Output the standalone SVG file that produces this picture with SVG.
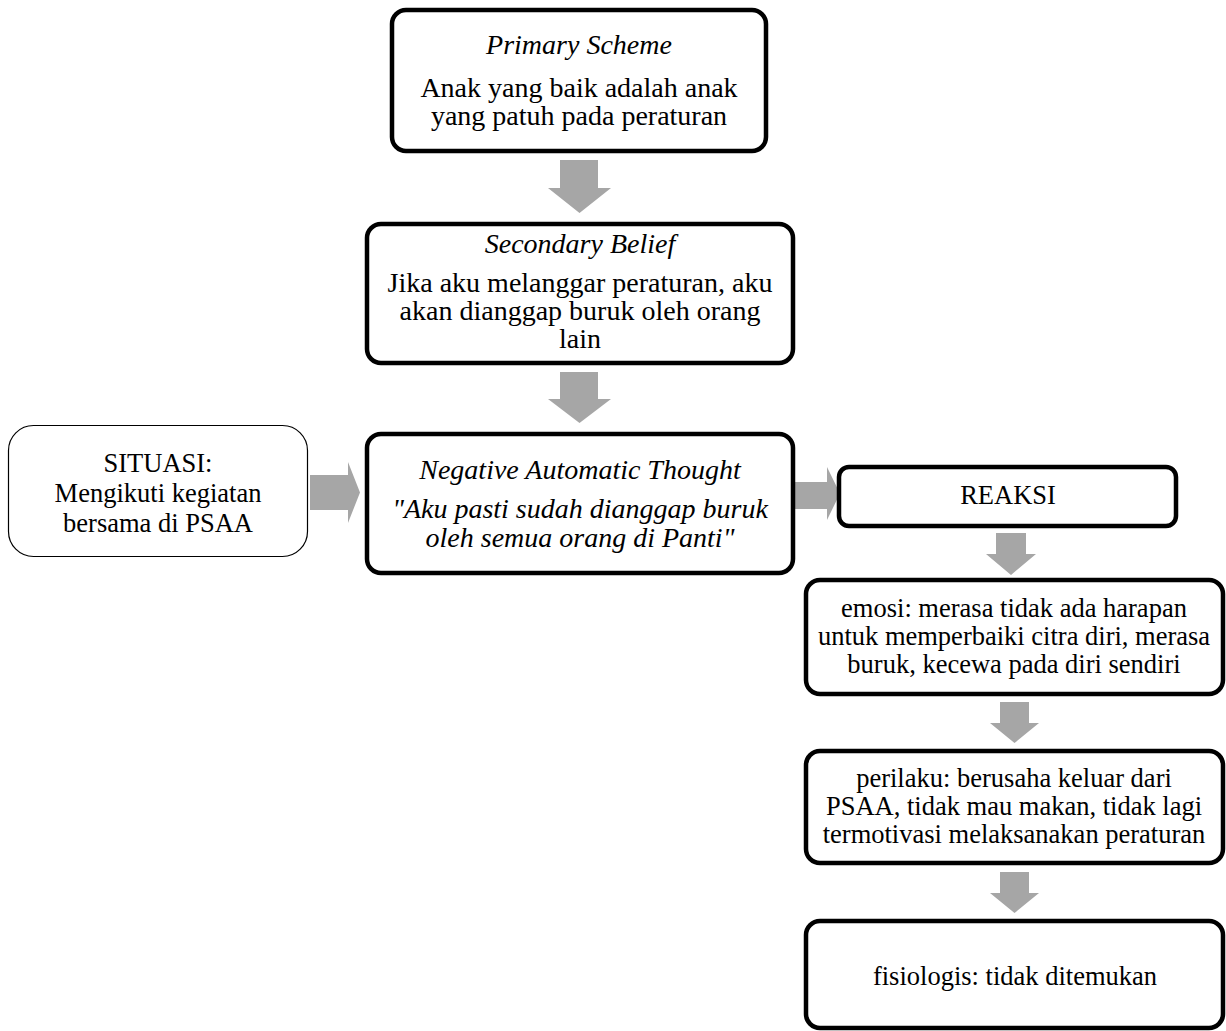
<svg xmlns="http://www.w3.org/2000/svg" width="1226" height="1031" viewBox="0 0 1226 1031">
<style>
.box{fill:#fff;stroke:#000;stroke-width:4.5}
.thin{fill:#fff;stroke:#000;stroke-width:1.2}
.arr{fill:#a6a6a6;stroke:none}
text{font-family:"Liberation Serif","Times New Roman",serif;fill:#000;text-anchor:middle}
.big{font-size:28px}
.sm{font-size:26.5px}
.it{font-style:italic}
</style>
<rect width="1226" height="1031" fill="#fff"/>
<g id="connectors">
<polygon class="arr" points="560,160 598,160 598,188 611,188 579.5,213 548,188 560,188"/>
<polygon class="arr" points="560,372 598,372 598,399 611,399 579.5,423 548,399 560,399"/>
<polygon class="arr" points="310,475 348,475 348,462 360,492.5 348,523 348,510 310,510"/>
<polygon class="arr" points="793,482 827,482 827,467 840,493.5 827,520 827,509 793,509"/>
<polygon class="arr" points="996,533 1026,533 1026,554 1036,554 1011,575 986,554 996,554"/>
<polygon class="arr" points="1000,702 1029,702 1029,723 1039,723 1014.5,743 990,723 1000,723"/>
<polygon class="arr" points="1000,872 1029,872 1029,893 1039,893 1014.5,913 990,893 1000,893"/>
</g>
<g id="primary">
<rect class="box" x="392" y="10" width="374" height="141" rx="14"/>
<text class="big it" x="579" y="54">Primary Scheme</text>
<text class="big" x="579" y="97">Anak yang baik adalah anak</text>
<text class="big" x="579" y="125">yang patuh pada peraturan</text>
</g>
<g id="secondary">
<rect class="box" x="367" y="224" width="426" height="139" rx="14"/>
<text class="big it" x="580" y="253">Secondary Belief</text>
<text class="big" x="580" y="292">Jika aku melanggar peraturan, aku</text>
<text class="big" x="580" y="320">akan dianggap buruk oleh orang</text>
<text class="big" x="580" y="348">lain</text>
</g>
<g id="situasi">
<rect class="thin" x="8.5" y="425.5" width="299" height="131" rx="25"/>
<text class="sm" x="158" y="472">SITUASI:</text>
<text class="sm" x="158" y="502">Mengikuti kegiatan</text>
<text class="sm" x="158" y="532">bersama di PSAA</text>
</g>
<g id="nat">
<rect class="box" x="367" y="434" width="426" height="139" rx="14"/>
<text class="big it" x="580" y="479">Negative Automatic Thought</text>
<text class="big it" x="580" y="518">"Aku pasti sudah dianggap buruk</text>
<text class="big it" x="580" y="547">oleh semua orang di Panti"</text>
</g>
<g id="reaksi">
<rect class="box" x="839" y="467" width="337" height="59" rx="10"/>
<text class="sm" x="1008" y="504">REAKSI</text>
</g>
<g id="emosi">
<rect class="box" x="806" y="580" width="417" height="114" rx="14"/>
<text class="sm" x="1014" y="617">emosi: merasa tidak ada harapan</text>
<text class="sm" x="1014" y="645">untuk memperbaiki citra diri, merasa</text>
<text class="sm" x="1014" y="673">buruk, kecewa pada diri sendiri</text>
</g>
<g id="perilaku">
<rect class="box" x="806" y="751" width="417" height="112" rx="14"/>
<text class="sm" x="1014" y="787">perilaku: berusaha keluar dari</text>
<text class="sm" x="1014" y="815">PSAA, tidak mau makan, tidak lagi</text>
<text class="sm" x="1014" y="843">termotivasi melaksanakan peraturan</text>
</g>
<g id="fisiologis">
<rect class="box" x="806" y="921" width="417" height="107" rx="14"/>
<text class="sm" x="1015" y="985">fisiologis: tidak ditemukan</text>
</g>
</svg>
